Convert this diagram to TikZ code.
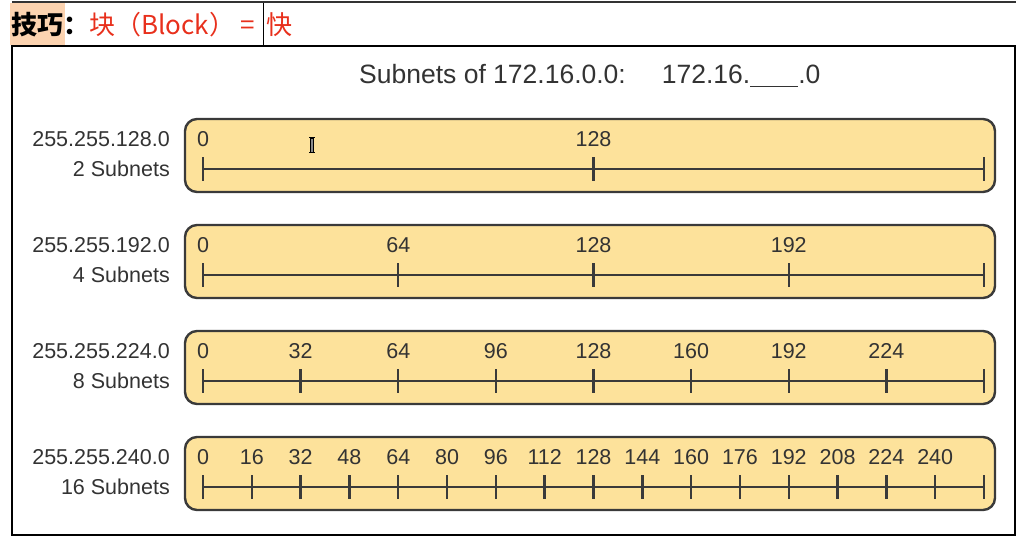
\documentclass[tikz,border=0pt]{standalone}
\usepackage{fontspec}
\setmainfont{Liberation Sans}
\newfontfamily\cjk{Noto Sans CJK SC}
\definecolor{boxfill}{HTML}{FDE29B}
\definecolor{boxline}{HTML}{3A3A3A}
\definecolor{txt}{HTML}{333333}
\definecolor{tipred}{HTML}{E8301C}
\definecolor{peach}{HTML}{FCD3B0}
\tikzset{
  scalebox/.style={draw=boxline, line width=2.4pt, fill=boxfill, rounded corners=12pt},
  scaleline/.style={draw=boxline, line width=2.4pt},
  lbl/.style={font=\fontsize{21.5}{24}\selectfont, text=txt, inner sep=0pt},
}
\begin{document}
\begin{tikzpicture}[x=1pt,y=-1pt]
        \useasboundingbox (0,0) rectangle (1024,539);

        % header line
        \fill[peach] (10,3) rectangle (65,45);
        \draw[line width=2pt, black!80] (12,1.5) -- (1016,1.5);
        \node[anchor=west, inner sep=0pt] (tip) at (11,25)
            {\cjk\fontsize{26}{30}\selectfont{\bfseries 技巧：}\textcolor{tipred}{块（Block） = \hspace{5pt}快}};
        \draw[line width=1pt] (263,3) -- (263,45);

        % frame
        \draw[line width=1.6pt] (12,46) rectangle (1015,535);
        \node[lbl, font=\fontsize{26.5}{30}\selectfont, anchor=west] (title) at (359,76)
            {Subnets of 172.16.0.0:\hspace{36pt}172.16.\rule[-3.5pt]{48pt}{1.3pt}.0};

        % one scale per mask
        \foreach \mask/\n [count=\r from 0] in {128/2,192/4,224/8,240/16} {
            \pgfmathsetmacro\top{119+106*\r}
            \node[lbl, anchor=east] (mask\r) at (170,{\top+20}) {255.255.\mask.0};
            \node[lbl, anchor=east] (count\r) at (170,{\top+50}) {\n{} Subnets};
            \draw[scalebox] (185,\top) rectangle (995,{\top+73});
            \draw[scaleline] (203,{\top+50}) -- (984,{\top+50});
            \foreach \k in {0,...,\n} {
                \pgfmathsetmacro\xk{203+\k*781/\n}
                \draw[scaleline] (\xk,{\top+38}) -- (\xk,{\top+62});
            }
            \pgfmathtruncatemacro\last{\n-1}
            \foreach \k in {0,...,\last} {
                \pgfmathsetmacro\xk{203+\k*781/\n}
                \pgfmathtruncatemacro\val{\k*256/\n}
                \node[lbl] (num\r-\k) at (\xk,{\top+20}) {\val};
            }
        }

        % text cursor
        \draw[line width=0.8pt, fill=black!45] (310.5,138) -- (313.5,138) -- (313.5,152) -- (310.5,152) -- cycle;
        \draw[line width=0.8pt] (309,137.5) -- (315,137.5) (309,152.5) -- (315,152.5);
    \end{tikzpicture}
\end{document}
